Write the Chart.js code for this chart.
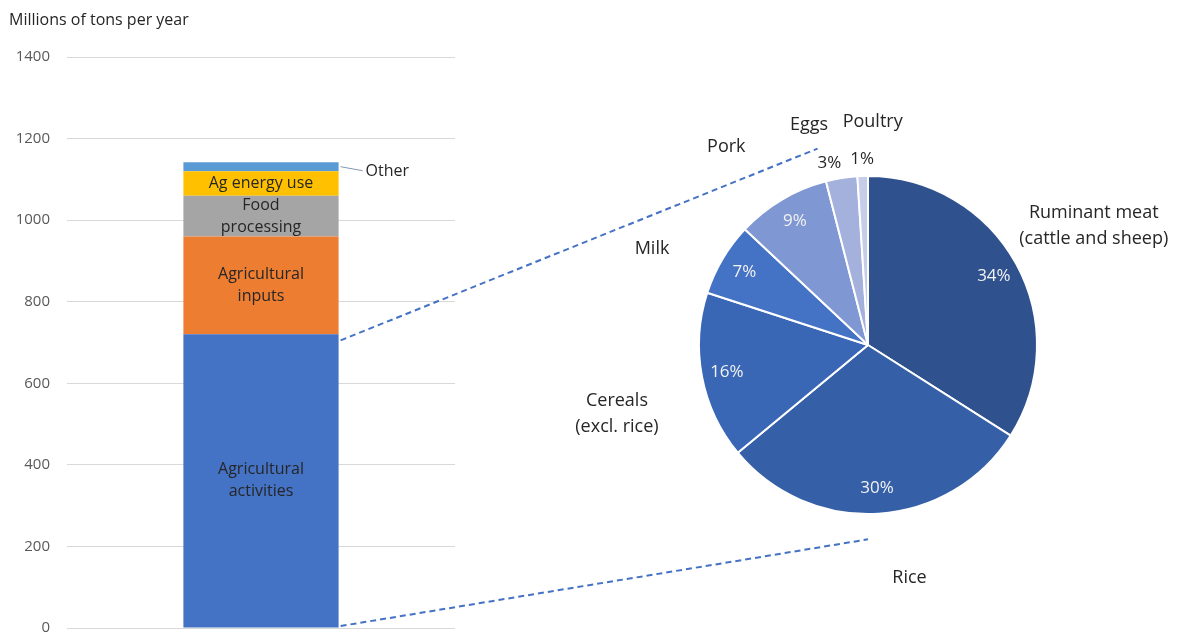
<!DOCTYPE html>
<html>
<head>
<meta charset="utf-8">
<script src="https://cdn.jsdelivr.net/npm/chart.js@4.4.0/dist/chart.umd.min.js"></script>
<style>
    body { margin: 0; background: #fff; overflow: hidden; }
    #wrap { position: relative; width: 1177px; height: 634px; overflow: hidden; }
    #barChart { position: absolute; left: 0; top: 0; }
    #pieChart { position: absolute; left: 470px; top: 0; }
    #links { position: absolute; left: 0; top: 0; pointer-events: none; }
</style>
</head>
<body>
<div id="wrap">
    <canvas id="barChart" width="470" height="660"></canvas>
    <canvas id="pieChart" width="707" height="634"></canvas>
    <canvas id="links" width="1177" height="634"></canvas>
</div>
<script>
// Stacked bar (millions of tons per year)
const barCategories = ['Agricultural activities', 'Agricultural inputs', 'Food processing', 'Ag energy use', 'Other'];
const barValues = [720, 240, 100, 60, 22];
const barLabelLines = [['Agricultural', 'activities'], ['Agricultural', 'inputs'], ['Food', 'processing'], ['Ag energy use'], ['Other']];
const yTicks = [0, 200, 400, 600, 800, 1000, 1200, 1400];

// Pie breakdown of agricultural activities (%)
const pieCategories = ['Ruminant meat (cattle and sheep)', 'Rice', 'Cereals (excl. rice)', 'Milk', 'Pork', 'Eggs', 'Poultry'];
const pieShares = [34, 30, 16, 7, 9, 3, 1];
const pieLabelLines = [['Ruminant meat', '(cattle and sheep)'], ['Rice'], ['Cereals', '(excl. rice)'], ['Milk'], ['Pork'], ['Eggs'], ['Poultry']];

const barColors = ['#4472C4', '#ED7D31', '#A5A5A5', '#FFC000', '#5B9BD5'];
const pieColors = ['#2F528F', '#3560A8', '#3A67B5', '#4472C4', '#7F97D3', '#A3B1DC', '#C5CDE8'];

const FONT = '"Open Sans", sans-serif';
const TEXT = '#262626';

// labels inside the bar segments + the axis title
const barLabels = {
    id: 'barLabels',
    afterDatasetsDraw(chart) {
        const ctx = chart.ctx;
        ctx.save();
        ctx.fillStyle = TEXT;
        ctx.font = '16px ' + FONT;
        ctx.textAlign = 'left';
        ctx.textBaseline = 'middle';
        ctx.fillText('Millions of tons per year', 9, 20);

        ctx.font = '16px ' + FONT;
        chart.data.datasets.forEach((ds, i) => {
            const el = chart.getDatasetMeta(i).data[0];
            const cy = (el.y + el.base) / 2;
            const lines = barLabelLines[i];
            if (i === barCategories.length - 1) {
                // "Other" sits outside with a short leader line
                const x0 = el.x + el.width / 2 + 2;
                ctx.strokeStyle = '#8497B0';
                ctx.lineWidth = 1;
                ctx.beginPath();
                ctx.moveTo(x0, cy);
                ctx.lineTo(x0 + 22, cy + 4);
                ctx.stroke();
                ctx.textAlign = 'left';
                ctx.fillText(lines[0], x0 + 25, cy + 5);
                return;
            }
            ctx.textAlign = 'center';
            const lh = 22;
            lines.forEach((t, k) => {
                ctx.fillText(t, el.x, cy + (k - (lines.length - 1) / 2) * lh);
            });
        });
        ctx.restore();
    }
};

const barChart = new Chart(document.getElementById('barChart'), {
    type: 'bar',
    data: {
        labels: [''],
        datasets: barCategories.map((c, i) => ({
            label: c,
            data: [barValues[i]],
            backgroundColor: barColors[i],
            barPercentage: 0.4,
            categoryPercentage: 1
        }))
    },
    options: {
        responsive: false,
        animation: false,
        layout: { padding: { top: 57, right: 15, bottom: 32, left: 0 } },
        plugins: { legend: { display: false }, tooltip: { enabled: false } },
        scales: {
            x: { stacked: true, display: false },
            y: {
                stacked: true,
                min: yTicks[0],
                max: yTicks[yTicks.length - 1],
                afterBuildTicks(scale) { scale.ticks = yTicks.map(v => ({ value: v })); },
                afterFit(scale) { scale.width = 67; },
                ticks: {
                    color: '#595959',
                    font: { size: 15, family: FONT },
                    padding: 17,
                    callback: v => String(v)
                },
                grid: { color: '#D9D9D9', drawTicks: false },
                border: { display: false }
            }
        }
    },
    plugins: [barLabels]
});

// percentages and category names around the pie
// distance in radii and a small angle nudge (degrees) for each name label
const nameDist = [1.51, 1.4, 1.54, 1.4, 1.44, 1.35, 1.32];
const nameNudge = [1, -6.5, -4.5, -6.5, -5, -6, 3];
const pctNudge = [0, 0, 0, 0, 0, -3, 0];
const pieLabels = {
    id: 'pieLabels',
    afterDatasetsDraw(chart) {
        const ctx = chart.ctx;
        ctx.save();
        ctx.textAlign = 'center';
        ctx.textBaseline = 'middle';
        const rad = Math.PI / 180;
        chart.getDatasetMeta(0).data.forEach((arc, i) => {
            const mid = (arc.startAngle + arc.endAngle) / 2;
            const r = arc.outerRadius;
            const inside = pieShares[i] >= 5;
            const f = inside ? 0.85 : 1.1;
            const pa = mid + pctNudge[i] * rad;
            ctx.font = '17px ' + FONT;
            ctx.fillStyle = inside ? '#F2F2F2' : TEXT;
            ctx.fillText(pieShares[i] + '%', arc.x + Math.cos(pa) * r * f, arc.y + Math.sin(pa) * r * f);

            ctx.font = '18px ' + FONT;
            ctx.fillStyle = TEXT;
            const na = mid + nameNudge[i] * rad;
            const nx = arc.x + Math.cos(na) * r * nameDist[i];
            const ny = arc.y + Math.sin(na) * r * nameDist[i];
            const lines = pieLabelLines[i];
            lines.forEach((t, k) => {
                ctx.fillText(t, nx, ny + (k - (lines.length - 1) / 2) * 26);
            });
        });
        ctx.restore();
    }
};

const pieChart = new Chart(document.getElementById('pieChart'), {
    type: 'pie',
    data: {
        labels: pieCategories,
        datasets: [{
            data: pieShares,
            backgroundColor: pieColors,
            borderColor: '#FFFFFF',
            borderWidth: 2
        }]
    },
    options: {
        responsive: false,
        animation: false,
        layout: { padding: { top: 175, bottom: 119, left: 228, right: 139 } },
        plugins: { legend: { display: false }, tooltip: { enabled: false } }
    },
    plugins: [pieLabels]
});

// dashed lines linking the "Agricultural activities" segment to the pie
function drawLinks() {
    const ctx = document.getElementById('links').getContext('2d');
    const seg = barChart.getDatasetMeta(0).data[0];
    const barRight = seg.x + seg.width / 2;
    const yTop = barChart.scales.y.getPixelForValue(barValues[0]);
    const yBottom = barChart.scales.y.getPixelForValue(0);

    const arc = pieChart.getDatasetMeta(0).data[0];
    const cx = arc.x + 470, cy = arc.y, r = arc.outerRadius;
    const eggsStart = pieChart.getDatasetMeta(0).data[5].startAngle;

    ctx.strokeStyle = '#4472C4';
    ctx.lineWidth = 2;
    ctx.setLineDash([6, 4]);
    ctx.beginPath();
    ctx.moveTo(barRight + 2, yTop + 6);
    ctx.lineTo(cx + Math.cos(eggsStart) * r * 1.2, cy + Math.sin(eggsStart) * r * 1.2);
    ctx.moveTo(barRight + 2, yBottom - 2);
    ctx.lineTo(cx, cy + r * 1.15);
    ctx.stroke();
}
drawLinks();
</script>
</body>
</html>
